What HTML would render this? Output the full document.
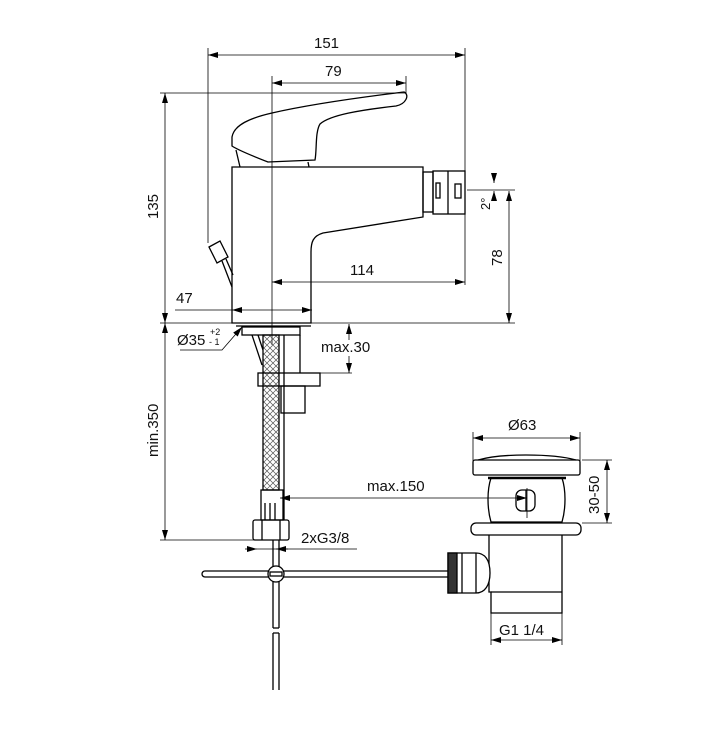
<!DOCTYPE html>
<html><head><meta charset="utf-8"><style>
html,body{margin:0;padding:0;background:#fff;}
svg{display:block;}
text{font-family:"Liberation Sans",Arial,sans-serif;font-size:15px;fill:#111;}
</style></head><body>
<svg width="716" height="738" viewBox="0 0 716 738" xmlns="http://www.w3.org/2000/svg">
<defs>
<marker id="a" viewBox="0 0 10 6" refX="10" refY="3" markerWidth="12" markerHeight="6" markerUnits="userSpaceOnUse" orient="auto-start-reverse"><path d="M0,0 L10,3 L0,6z" fill="#000"/></marker>
<pattern id="br" width="6" height="6" patternUnits="userSpaceOnUse"><path d="M0,0 L6,6 M6,0 L0,6" stroke="#555" stroke-width="0.7"/></pattern>
</defs>
<g fill="none" stroke="#000" stroke-width="0.8">
<line x1="208" y1="55" x2="465" y2="55" marker-start="url(#a)" marker-end="url(#a)"/>
<line x1="272" y1="83" x2="406" y2="83" marker-start="url(#a)" marker-end="url(#a)"/>
<line x1="208" y1="48" x2="208" y2="243"/>
<line x1="465" y1="48" x2="465" y2="285"/>
<line x1="272" y1="76" x2="272" y2="345"/>
<line x1="406" y1="76" x2="406" y2="93"/>
<line x1="160" y1="93" x2="405" y2="93"/>
<line x1="165" y1="93" x2="165" y2="323" marker-start="url(#a)" marker-end="url(#a)"/>
<line x1="272" y1="282" x2="465" y2="282" marker-start="url(#a)" marker-end="url(#a)"/>
<line x1="175" y1="310" x2="232" y2="310"/>
<line x1="232" y1="310" x2="312" y2="310" marker-start="url(#a)" marker-end="url(#a)"/>
<line x1="160" y1="323" x2="515" y2="323"/>
<line x1="509" y1="191" x2="509" y2="323" marker-start="url(#a)" marker-end="url(#a)"/>
<line x1="467" y1="190" x2="515" y2="190"/>
<line x1="494" y1="174" x2="494" y2="183" marker-end="url(#a)"/>
<line x1="494" y1="200" x2="494" y2="191" marker-end="url(#a)"/>
<polyline points="180,350 222,350 242,327" marker-end="url(#a)"/>
<line x1="349" y1="340" x2="349" y2="324" marker-end="url(#a)"/>
<line x1="349" y1="356" x2="349" y2="373" marker-end="url(#a)"/>
<line x1="320" y1="373" x2="352" y2="373"/>
<line x1="165" y1="323" x2="165" y2="540" marker-start="url(#a)" marker-end="url(#a)"/>
<line x1="160" y1="540" x2="256" y2="540"/>
<line x1="257" y1="549" x2="357" y2="549"/>
<line x1="245" y1="549" x2="257" y2="549" marker-end="url(#a)"/>
<line x1="288" y1="549" x2="276" y2="549" marker-end="url(#a)"/>
<line x1="280" y1="498" x2="527" y2="498" marker-start="url(#a)" marker-end="url(#a)"/>
<line x1="527" y1="488" x2="527" y2="518"/>
<line x1="473" y1="438" x2="580" y2="438" marker-start="url(#a)" marker-end="url(#a)"/>
<line x1="473" y1="432" x2="473" y2="462"/>
<line x1="580" y1="432" x2="580" y2="462"/>
<line x1="607" y1="460" x2="607" y2="523" marker-start="url(#a)" marker-end="url(#a)"/>
<line x1="582" y1="460" x2="612" y2="460"/>
<line x1="582" y1="523" x2="612" y2="523"/>
<line x1="491" y1="640" x2="562" y2="640" marker-start="url(#a)" marker-end="url(#a)"/>
<line x1="491" y1="613" x2="491" y2="645"/>
<line x1="562" y1="613" x2="562" y2="645"/>
</g>
<g fill="none" stroke="#000" stroke-width="1.3">
<path d="M232,137 C234,125 250,118 272,113 C320,102 380,95 404,92 C410,95 406,104 396,106 C360,110 330,115 320,124 C315,132 317,150 315,160 L268,162 C250,155 238,150 232,146 Z"/>
<path d="M240,167 L236,150"/>
<line x1="308" y1="162" x2="309" y2="167"/>
<path d="M232,323 L232,167 L423,167 L423,217 L323,233 C313,236 311,242 311,252 L311,323 Z"/>
<line x1="236" y1="326" x2="311" y2="326"/>
<rect x="423" y="172" width="10" height="40"/>
<rect x="433" y="171" width="32" height="43"/>
<line x1="448" y1="171" x2="448" y2="214"/>
<rect x="436" y="183" width="4" height="15"/>
<rect x="455" y="184" width="6" height="14"/>
<path d="M209,247 L220,241 L228,257 L217,263 Z"/>
<path d="M222,261 L232,287 M226,259 L233,275"/>
<rect x="242" y="327" width="58" height="8"/>
<rect x="263" y="335" width="16" height="155" fill="url(#br)"/>
<line x1="284" y1="335" x2="284" y2="520"/>
<line x1="300" y1="335" x2="300" y2="373"/>
<path d="M252,335 L262,365 M258,335 L263,350"/>
<rect x="258" y="373" width="62" height="13"/>
<rect x="281" y="386" width="24" height="27"/>
<rect x="261" y="490" width="22" height="30"/>
<line x1="265" y1="503" x2="265" y2="520"/><line x1="270" y1="503" x2="270" y2="520"/><line x1="275" y1="503" x2="275" y2="520"/>
<rect x="253" y="520" width="36" height="20" rx="2"/>
<line x1="262" y1="520" x2="262" y2="540"/><line x1="280" y1="520" x2="280" y2="540"/>
<path d="M205,571 L448,571 M205,577 L448,577 M205,571 A3,3 0 0 0 205,577"/>
<line x1="273" y1="540" x2="273" y2="628"/>
<line x1="279" y1="540" x2="279" y2="628"/>
<line x1="273" y1="628" x2="279" y2="628"/>
<path d="M273,633 L273,690 M279,633 L279,690 M273,633 L279,633"/>
<circle cx="276" cy="574" r="8" fill="#fff"/>
<rect x="270" y="572" width="12" height="4" fill="#fff"/>
<path d="M478,460 C492,456 508,455 526,455 C546,455 562,456 576,460"/>
<rect x="473" y="460" width="107" height="15" rx="2"/>
<line x1="488" y1="478" x2="566" y2="478" stroke-width="2.5"/>
<path d="M491,478 C487,490 487,508 491,522 L562,522 C566,508 566,490 562,478"/>
<rect x="516" y="490" width="19" height="21" rx="6"/>
<line x1="526" y1="490" x2="526" y2="511"/>
<rect x="471" y="523" width="110" height="12" rx="5"/>
<path d="M489,535 L489,592 L491,592 L491,613 L562,613 L562,535"/>
<line x1="491" y1="592" x2="562" y2="592"/>
<path d="M448,553 L476,553 C485,553 490,560 490,573 C490,585 485,593 476,593 L448,593 Z" fill="#fff"/>
<rect x="448" y="553" width="9" height="40" fill="#333"/>
<line x1="462" y1="553" x2="462" y2="593"/>
<line x1="476" y1="553" x2="476" y2="593"/>
</g>
<text x="314" y="48">151</text>
<text x="325" y="76">79</text>
<text x="350" y="275">114</text>
<text x="176" y="303">47</text>
<text x="177" y="345">Ø35</text>
<text x="210" y="335" style="font-size:9px">+2</text>
<text x="209" y="345" style="font-size:9px">- 1</text>
<text x="321" y="352">max.30</text>
<text x="367" y="491">max.150</text>
<text x="301" y="543">2xG3/8</text>
<text x="508" y="430">Ø63</text>
<text x="499" y="635">G1 1/4</text>
<text transform="translate(158,219) rotate(-90)">135</text>
<text transform="translate(502,266) rotate(-90)">78</text>
<text transform="translate(490,210) rotate(-90)" style="font-size:13px">2°</text>
<text transform="translate(158,457) rotate(-90)">min.350</text>
<text transform="translate(599,514) rotate(-90)">30-50</text>
</svg>
</body></html>
